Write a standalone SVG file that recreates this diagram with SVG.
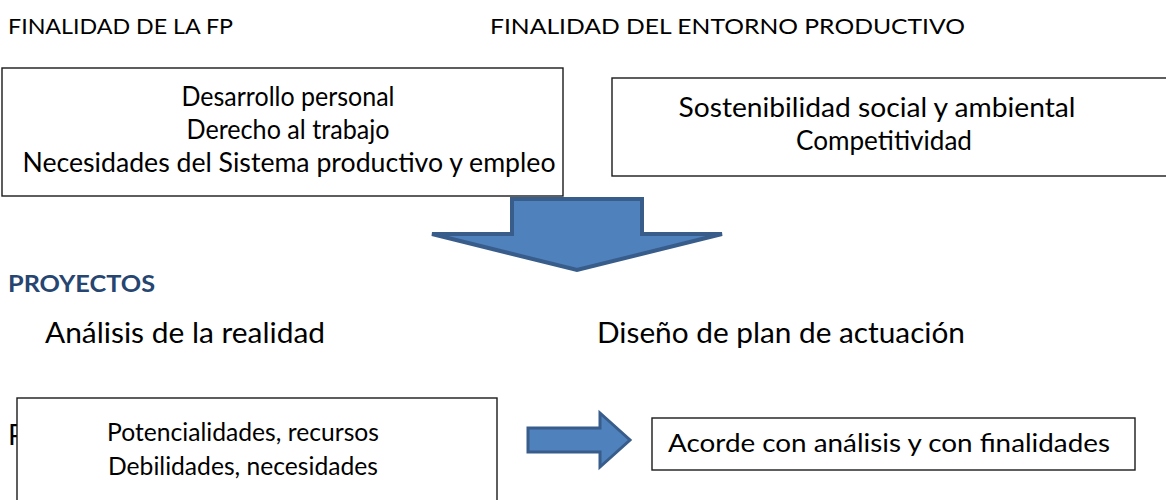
<svg xmlns="http://www.w3.org/2000/svg" width="1166" height="500" viewBox="0 0 1166 500">
<style>
text { font-family: Lato, "Open Sans", "Liberation Sans", sans-serif; fill: #000; }
.h { font-size: 21px; }
.t { font-size: 27px; text-anchor: middle; }
.s { font-size: 25px; text-anchor: middle; }
.big { font-size: 28px; }
.proj { font-size: 23px; font-weight: bold; fill: #264570; }
.box { fill: #fff; stroke: #1a1a1a; stroke-width: 1.4; }
.arrow { fill: #4F81BD; stroke: #385D8A; stroke-linejoin: miter; }
</style>
<rect width="1166" height="500" fill="#fff"/>
<g id="headings">
<text class="h" x="8" y="34" textLength="225" lengthAdjust="spacingAndGlyphs">FINALIDAD DE LA FP</text>
<text class="h" x="490" y="34" textLength="475" lengthAdjust="spacingAndGlyphs">FINALIDAD DEL ENTORNO PRODUCTIVO</text>
<text class="proj" x="8" y="292" textLength="147" lengthAdjust="spacingAndGlyphs">PROYECTOS</text>
<text class="big" x="45" y="343" textLength="280" lengthAdjust="spacingAndGlyphs">Análisis de la realidad</text>
<text class="big" x="597" y="343" textLength="368" lengthAdjust="spacingAndGlyphs">Diseño de plan de actuación</text>
<text class="big" x="8" y="445">P</text>
</g>
<g id="node-fp">
<rect class="box" x="2" y="68" width="561" height="128"/>
<text class="t" x="288" y="106" textLength="213" lengthAdjust="spacingAndGlyphs">Desarrollo personal</text>
<text class="t" x="288" y="139" textLength="203" lengthAdjust="spacingAndGlyphs">Derecho al trabajo</text>
<text class="t" x="289" y="172" textLength="533" lengthAdjust="spacingAndGlyphs">Necesidades del Sistema productivo y empleo</text>
</g>
<g id="node-entorno">
<rect class="box" x="612" y="78" width="580" height="98"/>
<text class="t" x="877" y="117" textLength="397" lengthAdjust="spacingAndGlyphs">Sostenibilidad social y ambiental</text>
<text class="t" x="884" y="150" textLength="176" lengthAdjust="spacingAndGlyphs">Competitividad</text>
</g>
<g id="node-analisis">
<rect class="box" x="17" y="398" width="480" height="120"/>
<text class="s" x="243" y="441" textLength="272" lengthAdjust="spacingAndGlyphs">Potencialidades, recursos</text>
<text class="s" x="243" y="475" textLength="270" lengthAdjust="spacingAndGlyphs">Debilidades, necesidades</text>
</g>
<g id="node-diseno">
<rect class="box" x="652" y="418" width="483" height="52"/>
<text class="s" x="889" y="452" textLength="442" lengthAdjust="spacingAndGlyphs">Acorde con análisis y con finalidades</text>
</g>
<g id="connectors">
<polygon class="arrow" stroke-width="4" points="512,199 642,199 642,234 722,234 577,270 432,234 512,234"/>
<polygon class="arrow" stroke-width="3" points="528,428 600,428 600,413 630,440 600,467 600,452 528,452"/>
</g>
</svg>
